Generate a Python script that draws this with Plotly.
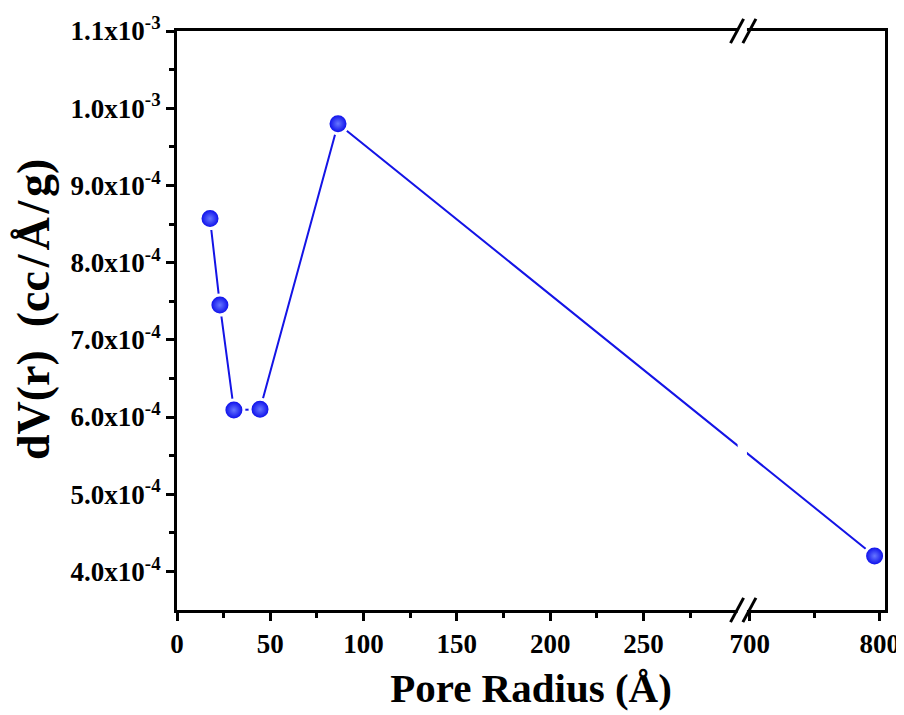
import plotly.graph_objects as go

# ---- data ----
pore_radius = [17.7, 23.0, 30.5, 44.5, 86.3, 796.0]          # Å
dv = [8.57e-4, 7.45e-4, 6.09e-4, 6.10e-4, 9.80e-4, 4.20e-4]   # cc/Å/g

x_major = [0, 50, 100, 150, 200, 250, 700, 800]
x_minor = [25, 75, 125, 175, 225, 275, 750]
y_major = [4e-4, 5e-4, 6e-4, 7e-4, 8e-4, 9e-4, 1.0e-3, 1.1e-3]
y_major_text = ["4.0x10<sup>-4</sup>", "5.0x10<sup>-4</sup>", "6.0x10<sup>-4</sup>",
                "7.0x10<sup>-4</sup>", "8.0x10<sup>-4</sup>", "9.0x10<sup>-4</sup>",
                "1.0x10<sup>-3</sup>", "1.1x10<sup>-3</sup>"]
y_minor = [4.5e-4, 5.5e-4, 6.5e-4, 7.5e-4, 8.5e-4, 9.5e-4, 1.05e-3]

# ---- broken x scale: [0, ~300] linear, then [~700, ~804] compressed ----
BREAK_LO, BREAK_HI = 300.0, 307.0
RIGHT_START, RIGHT_SCALE = 700.0, 0.697


def xmap(v):
    if v <= 300:
        return v
    return BREAK_HI + (v - RIGHT_START) * RIGHT_SCALE


u_data = [xmap(v) for v in pore_radius]
u_major = [xmap(v) for v in x_major]
u_minor = [xmap(v) for v in x_minor]
u_max = xmap(804)

font_family = "Liberation Serif"
blue = "#1414e6"

fig = go.Figure()
fig.add_trace(go.Scatter(
    x=u_data, y=dv, mode="lines+markers",
    line=dict(color=blue, width=2),
    marker=dict(size=20, color="#0000e8",
                gradient=dict(type="radial", color="#6676ff"),
                line=dict(color="white", width=3)),
    showlegend=False,
    cliponaxis=False,
))

axis_common = dict(showline=True, linecolor="black", linewidth=3, mirror=True,
                   showgrid=False, zeroline=False, ticks="outside",
                   tickwidth=3, tickcolor="black", ticklen=8, automargin=False,
                   tickfont=dict(family=font_family, size=27, color="black"))

# page body has an 8px default margin, so the figure is 16px smaller than the window
fig.update_layout(
    width=896, height=707,
    margin=dict(l=169, r=19, t=23, b=105),
    paper_bgcolor="white", plot_bgcolor="white",
    xaxis=dict(range=[0, u_max], tickmode="array", tickvals=u_major,
               ticktext=["<b>%s</b>" % v for v in x_major],
               minor=dict(tickmode="array", tickvals=u_minor, ticks="outside",
                          ticklen=5, tickwidth=3, tickcolor="black"),
               title=dict(text="<b>Pore Radius (Å)</b>", standoff=15,
                          font=dict(family=font_family, size=41, color="black")),
               **axis_common),
    yaxis=dict(range=[3.5e-4, 1.1e-3], tickmode="array", tickvals=y_major,
               ticktext=["<b>%s</b>" % t for t in y_major_text],
               minor=dict(tickmode="array", tickvals=y_minor, ticks="outside",
                          ticklen=5, tickwidth=3, tickcolor="black"),
               **axis_common),
)

fig.add_annotation(text="<b>dV(r)\u2002(cc\u200a/\u200aÅ\u200a/\u200ag)</b>",
                   textangle=-90, xref="paper", yref="paper", x=0, y=0.518,
                   xanchor="center", yanchor="middle", xshift=-144, showarrow=False,
                   font=dict(family=font_family, size=46, color="black"))

# axis break: white gap and "//" marks on top and bottom axes
fig.add_shape(type="rect", xref="x", yref="paper", x0=BREAK_LO + 0.5, x1=BREAK_HI - 1.5,
              y0=-0.012, y1=1.012, fillcolor="white", line=dict(width=0), layer="above")
for yc in (0.0, 1.0):
    for dx in (-3.3, 3.3):
        fig.add_shape(type="line", xref="x", yref="paper",
                      x0=(BREAK_LO + BREAK_HI) / 2 + dx - 3.5, x1=(BREAK_LO + BREAK_HI) / 2 + dx + 3.5,
                      y0=yc - 0.021, y1=yc + 0.021,
                      line=dict(color="black", width=3), layer="above")

fig.write_html("out.html")
